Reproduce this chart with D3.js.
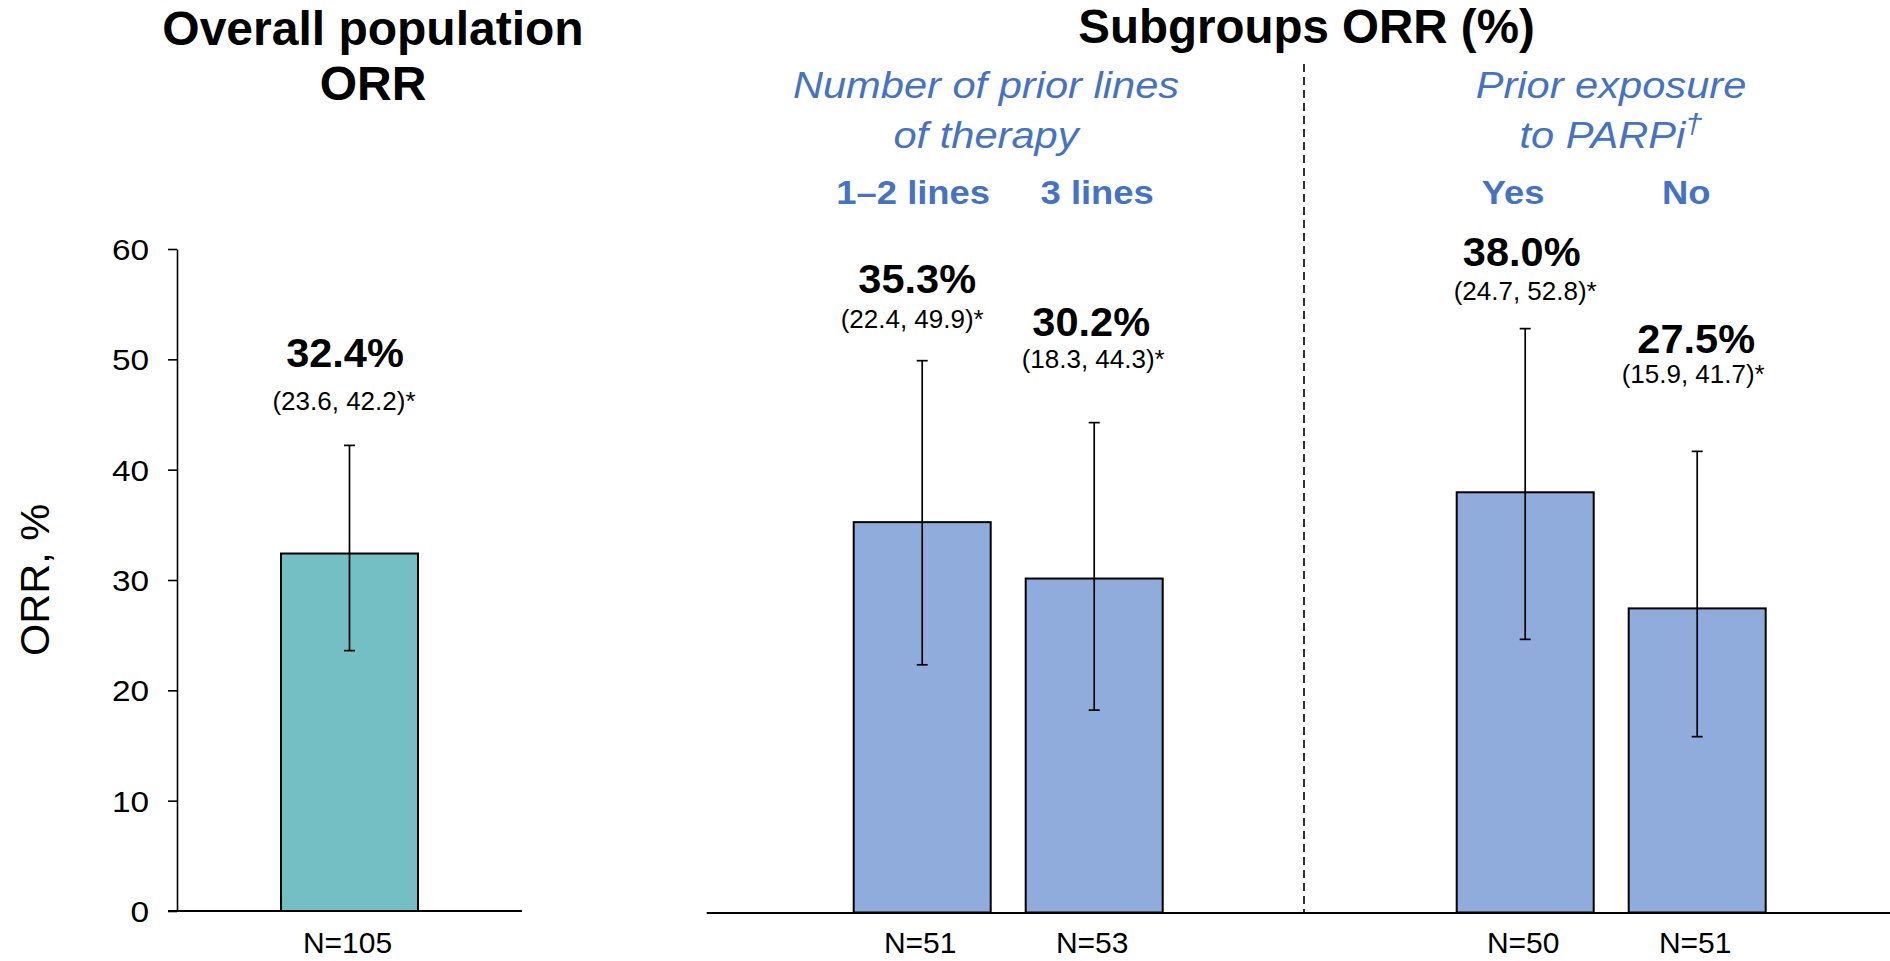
<!DOCTYPE html>
<html>
<head>
<meta charset="utf-8">
<script src="https://cdn.jsdelivr.net/npm/d3@7"></script>
<style>
  html, body { margin: 0; padding: 0; background: #ffffff; }
  svg { display: block; font-family: "Liberation Sans", Arial, Helvetica, sans-serif; }
</style>
</head>
<body>
<svg id="chart" width="1890" height="961"></svg>
<script>
// ---- Data ----
const overallCategories = ["Overall"];
const overallOrr = [32.4];
const overallLow = [23.6];
const overallHigh = [42.2];
const overallN = [105];

const groupKeys = ["lines", "parpi"];
const groupTitles = [["Number of prior lines", "of therapy"], ["Prior exposure", "to PARPi"]];

const subgroupCategories = ["1–2 lines", "3 lines", "Yes", "No"];
const subgroupGroup = ["lines", "lines", "parpi", "parpi"];
const subgroupOrr = [35.3, 30.2, 38.0, 27.5];
const subgroupLow = [22.4, 18.3, 24.7, 15.9];
const subgroupHigh = [49.9, 44.3, 52.8, 41.7];
const subgroupN = [51, 53, 50, 51];

const yTicks = [0, 10, 20, 30, 40, 50, 60];

// ---- Style / layout ----
const BLACK = "#000000";
const TEAL = "#73BFC4";
const BLUE_BAR = "#8FACDD";
const BLUE_TEXT = "#4472C4";
const FONT = '"Liberation Sans", Arial, Helvetica, sans-serif';

const svg = d3.select("#chart");

// horizontally widen a text element while keeping its height
function stretch(sel, sx) {
  sel.each(function () {
    const w = this.getComputedTextLength();
    this.setAttribute("textLength", (w * sx).toFixed(1));
    this.setAttribute("lengthAdjust", "spacingAndGlyphs");
  });
}

const fmtPct = v => d3.format(".1f")(v) + "%";
const fmtCi = (lo, hi) => `(${d3.format(".1f")(lo)}, ${d3.format(".1f")(hi)})*`;

// ---- Scales ----
const yLeft = d3.scaleLinear().domain([0, 60]).range([911, 249]);
const ySub = d3.scaleLinear().domain([0, 60]).range([912.5, 249]);

const xOverall = d3.scaleBand().domain(overallCategories).range([177, 522]);
const xGroup = d3.scaleBand().domain(groupKeys).range([706.7, 1912.7]);
const xInner = d3.scalePoint().domain([0, 1]).range([-86, 86]);

const barW = 137;
const capW = 11;

const overall = overallCategories.map((c, i) => ({
  cat: c, orr: overallOrr[i], lo: overallLow[i], hi: overallHigh[i], n: overallN[i],
  cx: xOverall(c) + xOverall.bandwidth() / 2
}));

const subgroup = subgroupCategories.map((c, i) => {
  const g = subgroupGroup[i];
  const idxInGroup = subgroupGroup.slice(0, i).filter(x => x === g).length;
  return {
    cat: c, group: g, orr: subgroupOrr[i], lo: subgroupLow[i], hi: subgroupHigh[i], n: subgroupN[i],
    cx: xGroup(g) + xGroup.bandwidth() / 2 + xInner(idxInGroup)
  };
});

// ---- Titles ----
const title1 = svg.append("g").attr("font-weight", "bold").attr("font-size", 48)
  .attr("text-anchor", "middle").attr("fill", BLACK);
title1.append("text").attr("x", 373).attr("y", 45).text("Overall population");
title1.append("text").attr("x", 373).attr("y", 100).text("ORR");

svg.append("text").attr("x", 1306.5).attr("y", 43)
  .attr("font-weight", "bold").attr("font-size", 47.5).attr("text-anchor", "middle")
  .text("Subgroups ORR (%)");

// group sub-titles (italic, blue)
const groupTitleX = { lines: 986, parpi: 1611 };
groupKeys.forEach((g, gi) => {
  groupTitles[gi].forEach((line, li) => {
    const t = svg.append("text")
      .attr("x", groupTitleX[g]).attr("y", 98 + li * 50)
      .attr("font-style", "italic").attr("font-size", 36.5)
      .attr("text-anchor", "middle").attr("fill", BLUE_TEXT);
    t.append("tspan").text(line);
    if (g === "parpi" && li === 1) {
      t.append("tspan").attr("font-size", 27).attr("dy", -15).text("†");
    }
    stretch(t, 1.14);
  });
});

// category headers above the subgroup bars
const headerDx = [-9, 3, -12, -11];
svg.append("g").selectAll("text").data(subgroup).join("text")
  .attr("x", (d, i) => d.cx + headerDx[i]).attr("y", 204)
  .attr("font-weight", "bold").attr("font-size", 34)
  .attr("text-anchor", "middle").attr("fill", BLUE_TEXT)
  .text(d => d.cat)
  .call(stretch, 1.07);

// ---- Left panel axis ----
const yAxis = d3.axisLeft(yLeft).tickValues(yTicks).tickSize(9).tickSizeOuter(0).tickPadding(19);
const yAxisG = svg.append("g").attr("transform", "translate(177,0)").call(yAxis);
yAxisG.select(".domain").attr("stroke", BLACK).attr("stroke-width", 1.6);
yAxisG.selectAll(".tick line").attr("stroke", BLACK).attr("stroke-width", 1.6);
yAxisG.selectAll(".tick text")
  .attr("font-family", FONT).attr("font-size", 29).attr("fill", BLACK).attr("dy", "0.36em")
  .call(stretch, 1.15);

svg.append("line")
  .attr("x1", 168).attr("x2", 522).attr("y1", yLeft(0)).attr("y2", yLeft(0))
  .attr("stroke", BLACK).attr("stroke-width", 1.8);

svg.append("text")
  .attr("transform", "translate(49,580) rotate(-90)")
  .attr("text-anchor", "middle").attr("font-size", 41.5).attr("fill", BLACK)
  .text("ORR, %");

// ---- Subgroup panel axis and divider ----
svg.append("line")
  .attr("x1", 706.7).attr("x2", 1890).attr("y1", 913).attr("y2", 913)
  .attr("stroke", BLACK).attr("stroke-width", 1.8);

svg.append("line")
  .attr("x1", 1304).attr("x2", 1304).attr("y1", 64).attr("y2", 912)
  .attr("stroke", BLACK).attr("stroke-width", 1.6).attr("stroke-dasharray", "8,5");

// ---- Bars ----
function drawBars(data, y, fill) {
  const g = svg.append("g");
  g.selectAll("rect").data(data).join("rect")
    .attr("x", d => d.cx - barW / 2).attr("width", barW)
    .attr("y", d => y(d.orr)).attr("height", d => y(0) - y(d.orr))
    .attr("fill", fill).attr("stroke", BLACK).attr("stroke-width", 2);

  // error bars
  const e = g.selectAll("g.err").data(data).join("g").attr("class", "err");
  e.append("line")
    .attr("x1", d => d.cx).attr("x2", d => d.cx)
    .attr("y1", d => y(d.lo)).attr("y2", d => y(d.hi))
    .attr("stroke", BLACK).attr("stroke-width", 1.7);
  e.append("line")
    .attr("x1", d => d.cx - capW / 2).attr("x2", d => d.cx + capW / 2)
    .attr("y1", d => y(d.hi)).attr("y2", d => y(d.hi))
    .attr("stroke", BLACK).attr("stroke-width", 1.7);
  e.append("line")
    .attr("x1", d => d.cx - capW / 2).attr("x2", d => d.cx + capW / 2)
    .attr("y1", d => y(d.lo)).attr("y2", d => y(d.lo))
    .attr("stroke", BLACK).attr("stroke-width", 1.7);
}
drawBars(overall, yLeft, TEAL);
drawBars(subgroup, ySub, BLUE_BAR);

// ---- Value and CI labels ----
function drawLabels(data, valueY, ciGap, valueDx, ciDx) {
  const g = svg.append("g").attr("text-anchor", "middle").attr("fill", BLACK);
  g.selectAll("text.val").data(data).join("text").attr("class", "val")
    .attr("x", (d, i) => d.cx + valueDx[i]).attr("y", (d, i) => valueY[i])
    .attr("font-weight", "bold").attr("font-size", 41.5)
    .text(d => fmtPct(d.orr));
  g.selectAll("text.ci").data(data).join("text").attr("class", "ci")
    .attr("x", (d, i) => d.cx + ciDx[i]).attr("y", (d, i) => valueY[i] + ciGap[i])
    .attr("font-size", 26)
    .text(d => fmtCi(d.lo, d.hi));
}
drawLabels(overall, [367], [43], [-4.5], [-5.5]);
drawLabels(subgroup, [293.3, 336, 266, 353.3], [35, 32, 34, 30], [-5, -3, -3.5, -1], [-10, -1, 0, -4]);

// ---- N labels ----
svg.append("g").attr("text-anchor", "middle").attr("font-size", 30).attr("fill", BLACK)
  .selectAll("text").data(overall.concat(subgroup)).join("text")
  .attr("x", d => d.cx - 2).attr("y", 953)
  .text(d => "N=" + d.n);
</script>
</body>
</html>
